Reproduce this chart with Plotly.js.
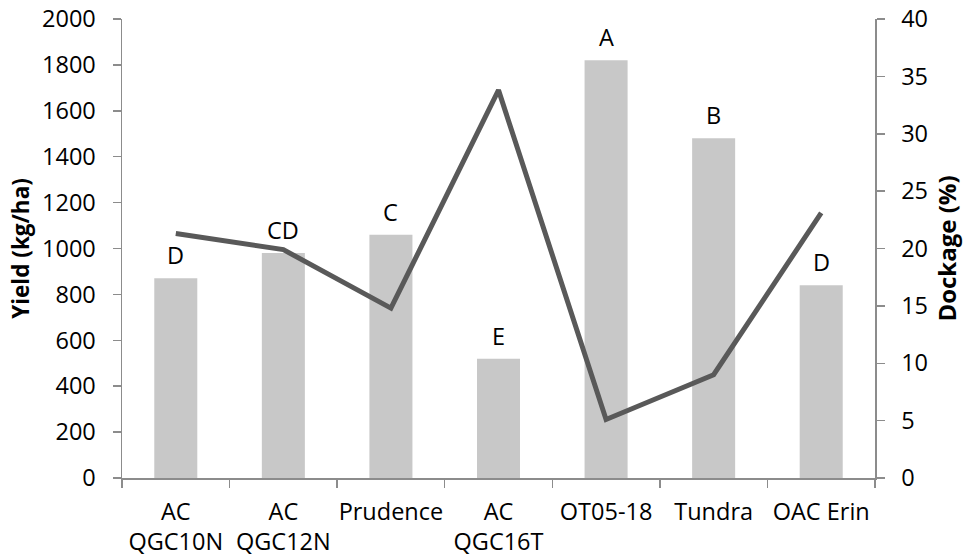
<!DOCTYPE html>
<html>
<head>
<meta charset="utf-8">
<script src="https://cdn.plot.ly/plotly-3.0.1.min.js"></script>
<style>html,body{margin:0;padding:0;background:#fff;}#chart{width:966px;height:558px;}</style>
</head>
<body>
<div id="chart"></div>
<script>
const categories = ["AC<br>QGC10N", "AC<br>QGC12N", "Prudence", "AC<br>QGC16T", "OT05-18", "Tundra", "OAC Erin"];
const yieldValues = [870, 980, 1060, 520, 1820, 1480, 840];
const dockageValues = [21.3, 19.9, 14.8, 33.8, 5.1, 9.0, 23.1];
const letters = ["D", "CD", "C", "E", "A", "B", "D"];

const FONT = "'Open Sans', sans-serif";
const AXIS_COLOR = "#8c8c8c";
const FS = 23.5;

const traces = [
  {
    type: "bar",
    x: categories,
    y: yieldValues,
    width: 0.4,
    marker: {color: "#c8c8c8"},
    hoverinfo: "skip",
    yaxis: "y"
  },
  {
    type: "scatter",
    mode: "lines",
    x: categories,
    y: dockageValues,
    line: {color: "#595959", width: 5},
    yaxis: "y2",
    hoverinfo: "skip"
  }
];

const annotations = categories.map((c, i) => ({
  x: c, y: yieldValues[i], xref: "x", yref: "y",
  text: letters[i], showarrow: false, yanchor: "bottom", yshift: 5,
  font: {family: FONT, size: FS, color: "#000"}
}));

const layout = {
  width: 966, height: 558,
  margin: {l: 122, r: 91, t: 19, b: 80},
  paper_bgcolor: "#fff", plot_bgcolor: "#fff",
  showlegend: false,
  font: {family: FONT, size: FS, color: "#000"},
  bargap: 0.6,
  xaxis: {
    type: "category",
    tickangle: 0,
    showline: true, linecolor: AXIS_COLOR, linewidth: 1.5,
    ticks: "outside", tickson: "boundaries", ticklen: 8, tickcolor: AXIS_COLOR, tickwidth: 1.5,
    showgrid: false, zeroline: false,
    tickfont: {family: FONT, size: FS, color: "#000"},
    ticklabelstandoff: 12
  },
  yaxis: {
    range: [0, 2000], dtick: 200, tick0: 0,
    showline: true, linecolor: AXIS_COLOR, linewidth: 1.5,
    ticks: "outside", ticklen: 8, tickcolor: AXIS_COLOR, tickwidth: 1.5,
    showgrid: false, zeroline: false,
    tickfont: {family: FONT, size: FS, color: "#000"},
    ticklabelstandoff: 12,
    title: {text: "<b>Yield (kg/ha)</b>", font: {family: FONT, size: 22.5, color: "#000"}, standoff: 6}
  },
  yaxis2: {
    range: [0, 40], dtick: 5, tick0: 0,
    overlaying: "y", side: "right",
    showline: true, linecolor: AXIS_COLOR, linewidth: 1.5,
    ticks: "outside", ticklen: 8, tickcolor: AXIS_COLOR, tickwidth: 1.5,
    showgrid: false, zeroline: false,
    tickfont: {family: FONT, size: FS, color: "#000"},
    ticklabelstandoff: 12,
    title: {text: "<b>Dockage (%)</b>", font: {family: FONT, size: 24, color: "#000"}, standoff: 12}
  },
  annotations: annotations
};

Plotly.newPlot("chart", traces, layout, {displayModeBar: false, staticPlot: true});
</script>
</body>
</html>
